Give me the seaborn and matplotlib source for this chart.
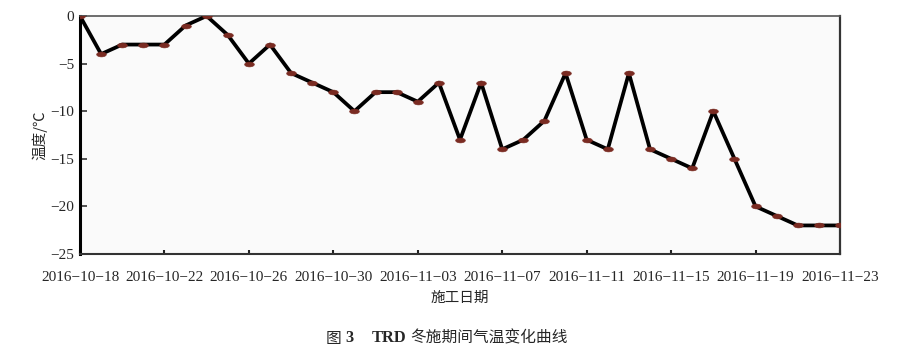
import numpy as np
import pandas as pd
import matplotlib
matplotlib.use("Agg")
import matplotlib.pyplot as plt
from matplotlib.path import Path
import seaborn as sns

# ---- data ----
start_date = "2016-10-18"
end_date = "2016-11-23"
temps = [0, -4, -3, -3, -3, -1, 0, -2, -5, -3, -6, -7, -8, -10, -8, -8, -9, -7,
         -13, -7, -14, -13, -11, -6, -13, -14, -6, -14, -15, -16, -10, -15, -20,
         -21, -22, -22, -22]
y_ticks = [0, -5, -10, -15, -20, -25]
x_tick_step_days = 4
x_label = "施工日期"
y_label = "温度/℃"

dates = pd.date_range(start_date, end_date, freq="D")
df = pd.DataFrame({"date": dates, "temp": temps})

sns.set_theme(style="white")
plt.rcParams['font.family'] = ['Liberation Serif', 'Noto Sans CJK SC']
plt.rcParams['axes.unicode_minus'] = True

fig = plt.figure(figsize=(9.08, 3.6), dpi=100)
ax = fig.add_axes([80/908, 1-254/360, 760/908, 238/360])
ax.set_facecolor("#fafafa")

# elliptical marker
theta = np.linspace(0, 2*np.pi, 40)
ell = Path(np.column_stack([np.cos(theta)*1.0, np.sin(theta)*0.5]), closed=True)

sns.lineplot(data=df, x="date", y="temp", ax=ax, color="black", linewidth=2.7,
             marker=ell, markersize=7, markerfacecolor="#7a2b22",
             markeredgecolor="#7a2b22", markeredgewidth=0.4, zorder=3)

ax.set_xlim(dates[0], dates[-1])
ax.set_ylim(-25, 0)
ax.set_yticks(y_ticks)
ax.set_yticklabels([str(v).replace("-", "\u2212") for v in y_ticks])
xt = dates[::x_tick_step_days]
ax.set_xticks(xt)
ax.set_xticklabels([d.strftime("%Y-%m-%d").replace("-", "\u2212") for d in xt])

ax.tick_params(axis="y", direction="in", length=5, width=1.2, color="#333333",
               labelsize=11, pad=4, left=True)
ax.tick_params(axis="x", direction="in", length=3, width=1.5, color="#222222",
               labelsize=11, pad=12, bottom=True)
for lab in ax.get_xticklabels() + ax.get_yticklabels():
    lab.set_fontfamily(['Liberation Serif'])

ax.spines["left"].set_color("black")
ax.spines["left"].set_linewidth(2.2)
ax.spines["bottom"].set_color("#333333")
ax.spines["bottom"].set_linewidth(1.5)
ax.spines["top"].set_color("#555555")
ax.spines["top"].set_linewidth(1.2)
ax.spines["right"].set_color("#333333")
ax.spines["right"].set_linewidth(1.6)

ax.set_xlabel("")
ax.set_ylabel("")
fig.text(460/908, 1-298/360, x_label, ha="center", va="center", fontsize=10.5,
         family=['Noto Sans CJK SC'])
fig.text(40/908, 1-135/360, y_label, ha="center", va="center", fontsize=10.5,
         rotation=90, family=['Noto Sans CJK SC', 'DejaVu Sans'])

# caption
cap_y = 1-338/360
cap_fs = 11.3
t1 = fig.text(326/908, cap_y, "图 ", ha="left", va="center", fontsize=cap_fs,
              family=['Noto Sans CJK SC'])
fig.canvas.draw()
r = fig.canvas.get_renderer()
x = t1.get_window_extent(r).x1
t2 = fig.text(x/908, cap_y, "3", ha="left", va="center", fontsize=cap_fs + 0.5,
              weight="bold", family=['Liberation Serif'])
x = t2.get_window_extent(r).x1 + 18
t3 = fig.text(x/908, cap_y, "TRD", ha="left", va="center", fontsize=cap_fs + 0.5,
              weight="bold", family=['Liberation Serif'])
x = t3.get_window_extent(r).x1 + 4
fig.text(x/908, cap_y, "冬施期间气温变化曲线", ha="left", va="center", fontsize=cap_fs,
         family=['Noto Sans CJK SC'])

fig.savefig("out.png", dpi=100)
